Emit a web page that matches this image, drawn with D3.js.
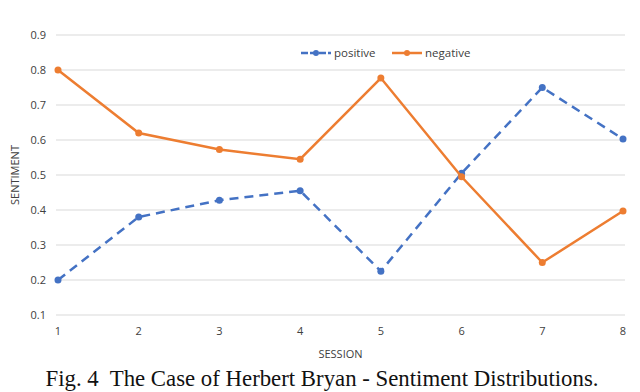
<!DOCTYPE html>
<html>
<head>
<meta charset="utf-8">
<script src="https://cdn.jsdelivr.net/npm/d3@7"></script>
<style>
  body { margin: 0; background: #fff; }
  svg text { font-family: "Open Sans", "DejaVu Sans", sans-serif; }
  svg text.caption { font-family: "Liberation Serif", "Times New Roman", serif; white-space: pre; }
</style>
</head>
<body>
<script>
const sessions = [1, 2, 3, 4, 5, 6, 7, 8];
const positive = [0.20, 0.38, 0.428, 0.455, 0.225, 0.505, 0.75, 0.603];
const negative = [0.80, 0.62, 0.573, 0.545, 0.777, 0.495, 0.25, 0.397];
const yTicks = [0.1, 0.2, 0.3, 0.4, 0.5, 0.6, 0.7, 0.8, 0.9];

const width = 640, height = 392;
const margin = {top: 35, right: 17, bottom: 77, left: 58};

const svg = d3.select('body').append('svg')
  .attr('width', width)
  .attr('height', height);

const x = d3.scaleLinear()
  .domain([1, 8])
  .range([margin.left, width - margin.right]);

const y = d3.scaleLinear()
  .domain([0.1, 0.9])
  .range([height - margin.bottom, margin.top]);

// gridlines
svg.append('g')
  .selectAll('line')
  .data(yTicks)
  .enter().append('line')
  .attr('x1', margin.left - 2)
  .attr('x2', width - margin.right + 2)
  .attr('y1', d => y(d))
  .attr('y2', d => y(d))
  .attr('stroke', '#d9d9d9')
  .attr('stroke-width', 1);

// y tick labels
svg.append('g')
  .selectAll('text')
  .data(yTicks)
  .enter().append('text')
  .attr('x', 46)
  .attr('y', d => y(d) + 4)
  .attr('text-anchor', 'end')
  .attr('font-size', 11)
  .attr('fill', '#404040')
  .text(d => d3.format('.1f')(d));

// x tick labels
svg.append('g')
  .selectAll('text')
  .data(sessions)
  .enter().append('text')
  .attr('x', d => x(d))
  .attr('y', height - margin.bottom + 20)
  .attr('text-anchor', 'middle')
  .attr('font-size', 11)
  .attr('fill', '#404040')
  .text(d => d);

// axis titles
svg.append('text')
  .attr('x', (margin.left + width - margin.right) / 2)
  .attr('y', 358)
  .attr('text-anchor', 'middle')
  .attr('font-size', 11)
  .attr('fill', '#404040')
  .text('SESSION');

svg.append('text')
  .attr('transform', `translate(19,${y(0.5)}) rotate(-90)`)
  .attr('text-anchor', 'middle')
  .attr('font-size', 11)
  .attr('fill', '#404040')
  .text('SENTIMENT');

const line = d3.line()
  .x((d, i) => x(sessions[i]))
  .y(d => y(d));

const series = [
  {name: 'positive', values: positive, color: '#4472C4', dash: '9,6'},
  {name: 'negative', values: negative, color: '#ED7D31', dash: null}
];

series.forEach(s => {
  svg.append('path')
    .datum(s.values)
    .attr('d', line)
    .attr('fill', 'none')
    .attr('stroke', s.color)
    .attr('stroke-width', 2.5)
    .attr('stroke-dasharray', s.dash);

  svg.append('g')
    .selectAll('circle')
    .data(s.values)
    .enter().append('circle')
    .attr('cx', (d, i) => x(sessions[i]))
    .attr('cy', d => y(d))
    .attr('r', 3.5)
    .attr('fill', s.color);
});

// legend
const legend = svg.append('g').attr('transform', 'translate(301,53)');
series.forEach((s, i) => {
  const g = legend.append('g').attr('transform', `translate(${i * 91},0)`);
  g.append('line')
    .attr('x1', 0).attr('x2', 30)
    .attr('y1', 0).attr('y2', 0)
    .attr('stroke', s.color)
    .attr('stroke-width', 2.5)
    .attr('stroke-dasharray', s.dash ? '7,2' : null);
  g.append('circle')
    .attr('cx', 15).attr('cy', 0).attr('r', 3)
    .attr('fill', s.color);
  g.append('text')
    .attr('x', 33).attr('y', 4)
    .attr('font-size', 11.5)
    .attr('fill', '#404040')
    .text(s.name);
});

// caption
svg.append('text')
  .attr('class', 'caption')
  .attr('x', width / 2 + 2)
  .attr('y', 386)
  .attr('text-anchor', 'middle')
  .attr('font-size', 22.8)
  .attr('fill', '#111')
  .text('Fig. 4  The Case of Herbert Bryan - Sentiment Distributions.');
</script>
</body>
</html>
